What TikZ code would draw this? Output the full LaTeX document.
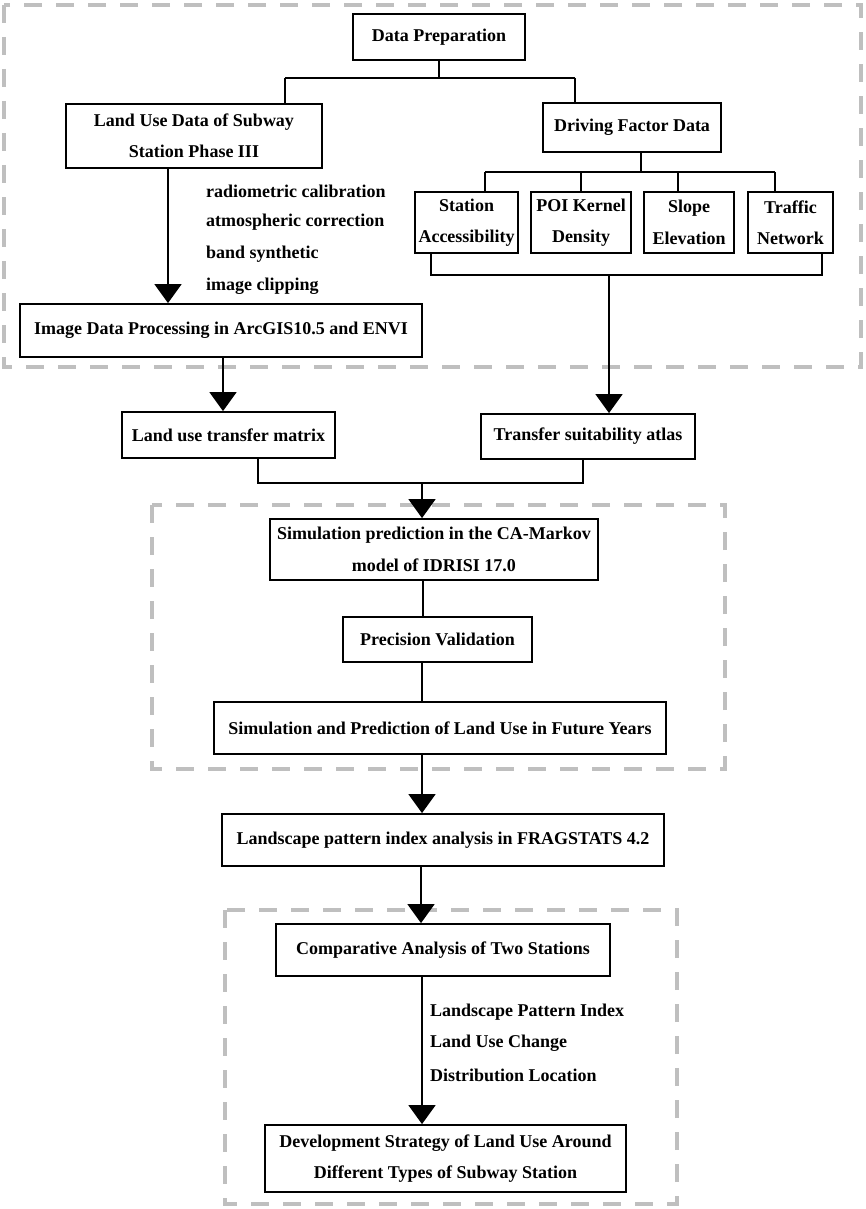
\documentclass[tikz,border=0pt]{standalone}
\usepackage{fontspec}
\setmainfont{Liberation Serif}
\usetikzlibrary{arrows.meta}
\definecolor{dashgray}{HTML}{BFBFBF}
\begin{document}
\begin{tikzpicture}[x=1pt,y=-1pt,
  txt/.style={font=\bfseries\fontsize{18}{31.5}\selectfont},
  box/.style={txt,draw,line width=1.8pt,inner sep=0pt,align=center},
  conn/.style={line width=1.6pt},
  arr/.style={conn,-{Triangle[width=27pt,length=19pt]}},
  grp/.style={draw=dashgray,line width=4.3pt,dash pattern=on 18pt off 14pt}
]
\useasboundingbox (0,0) rectangle (865,1209);

% group frames
\draw[grp] (4,5) rectangle (861,367);
\draw[grp] (152,505) rectangle (725,769);
\draw[grp] (225,910) rectangle (677,1204);

% boxes
\node[box,minimum width=172pt,minimum height=46pt] (dp) at (439,37) {Data Preparation};
\node[box,minimum width=256pt,minimum height=64pt] (lu) at (194,136) {Land Use Data of Subway\\Station Phase III};
\node[box,minimum width=178pt,minimum height=49pt] (df) at (632,127.5) {Driving Factor Data};
\node[box,minimum width=103pt,minimum height=61pt] (sa) at (466.5,222.5) {Station\\Accessibility};
\node[box,minimum width=100pt,minimum height=61pt] (poi) at (581,222.5) {POI Kernel\\Density};
\node[box,minimum width=90pt,minimum height=61pt] (se) at (689,222.5) {Slope\\Elevation};
\node[box,minimum width=85pt,minimum height=61pt] (tn) at (790.5,222.5) {Traffic\\Network};
\node[box,minimum width=402pt,minimum height=53pt] (idp) at (221,330.5) {Image Data Processing in ArcGIS10.5 and ENVI};
\node[box,minimum width=213pt,minimum height=46pt] (lutm) at (228.5,435) {Land use transfer matrix};
\node[box,minimum width=214pt,minimum height=45pt] (tsa) at (588,436.5) {Transfer suitability atlas};
\node[box,minimum width=328pt,minimum height=61pt] (ca) at (434,549.5) {Simulation prediction in the CA-Markov\\model of IDRISI 17.0};
\node[box,minimum width=189pt,minimum height=45pt] (pv) at (437.5,639.5) {Precision Validation};
\node[box,minimum width=452pt,minimum height=52pt] (sp) at (440,728) {Simulation and Prediction of Land Use in Future Years};
\node[box,minimum width=442pt,minimum height=52pt] (lp) at (443,840) {Landscape pattern index analysis in FRAGSTATS 4.2};
\node[box,minimum width=334pt,minimum height=52pt] (cmp) at (443,950) {Comparative Analysis of Two Stations};
\node[box,minimum width=361pt,minimum height=67pt] (dev) at (445.5,1158.5) {Development Strategy of Land Use Around\\Different Types of Subway Station};

% annotations
\node[txt,anchor=west,inner sep=0pt] (r1) at (206,191) {radiometric calibration};
\node[txt,anchor=west,inner sep=0pt] (r2) at (206,222) {atmospheric correction};
\node[txt,anchor=west,inner sep=0pt] (r3) at (206,254) {band synthetic};
\node[txt,anchor=west,inner sep=0pt] (r4) at (206,286) {image clipping};
\node[txt,anchor=west,inner sep=0pt] (l1) at (430,1012) {Landscape Pattern Index};
\node[txt,anchor=west,inner sep=0pt] (l2) at (430,1043) {Land Use Change};
\node[txt,anchor=west,inner sep=0pt] (l3) at (430,1075) {Distribution Location};

% Data Preparation split
\coordinate (b0) at (439,78);
\coordinate (bL) at (285,78);
\coordinate (bR) at (575,78);
\draw[conn] (dp.south) -- (b0);
\draw[conn] (bL) -- (bR);
\draw[conn] (bL) -- (bL |- lu.north);
\draw[conn] (bR) -- (bR |- df.north);

% Driving factor split
\coordinate (c0) at (641,172);
\coordinate (c1) at (485,172);
\coordinate (c2) at (581,172);
\coordinate (c3) at (678,172);
\coordinate (c4) at (775,172);
\draw[conn] (df.south -| c0) -- (c0);
\draw[conn] (c1) -- (c4);
\draw[conn] (c1) -- (c1 |- sa.north);
\draw[conn] (c2) -- (c2 |- poi.north);
\draw[conn] (c3) -- (c3 |- se.north);
\draw[conn] (c4) -- (c4 |- tn.north);

% factors merge
\coordinate (d1) at (431,275);
\coordinate (d2) at (822,275);
\coordinate (d3) at (609,275);
\draw[conn] (sa.south -| d1) -- (d1) -- (d2) -- (tn.south -| d2);
\draw[arr] (d3) -- (d3 |- tsa.north);

% land use processing
\coordinate (e1) at (168,200);
\draw[arr] (lu.south -| e1) -- (idp.north -| e1);
\coordinate (e2) at (223,380);
\draw[arr] (idp.south -| e2) -- (lutm.north -| e2);

% merge into CA
\coordinate (f1) at (258,483);
\coordinate (f2) at (583,483);
\coordinate (f0) at (422,483);
\draw[conn] (lutm.south -| f1) -- (f1) -- (f2) -- (tsa.south -| f2);
\draw[arr] (f0) -- (f0 |- ca.north);

% chain
\coordinate (g1) at (423,600);
\draw[conn] (ca.south -| g1) -- (pv.north -| g1);
\coordinate (g2) at (422,680);
\draw[conn] (pv.south -| g2) -- (sp.north -| g2);
\draw[arr] (sp.south -| g2) -- (lp.north -| g2);
\coordinate (g3) at (421,890);
\draw[arr] (lp.south -| g3) -- (cmp.north -| g3);
\coordinate (g4) at (422,1050);
\draw[arr] (cmp.south -| g4) -- (dev.north -| g4);
\end{tikzpicture}
\end{document}
